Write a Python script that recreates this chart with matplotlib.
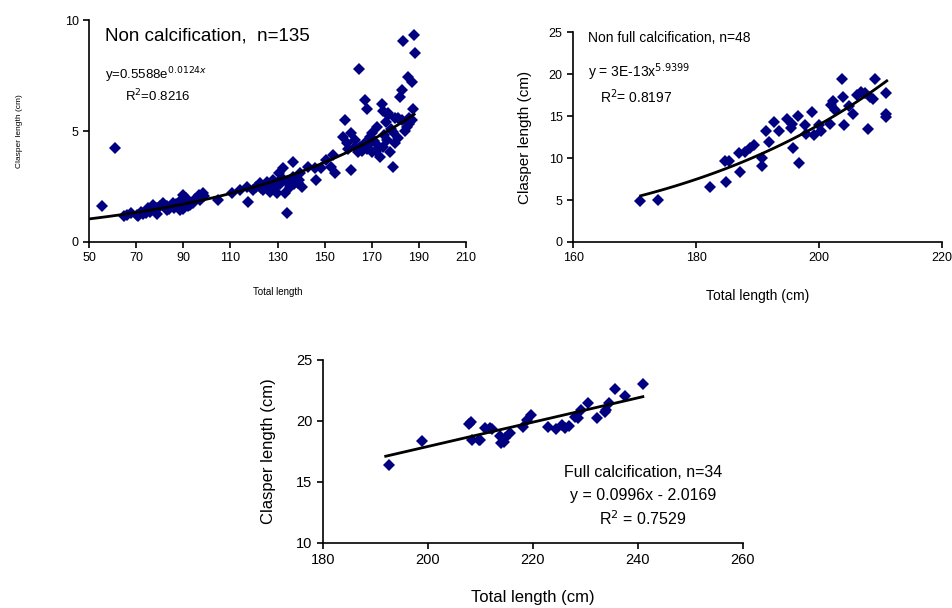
import numpy as np
import matplotlib.pyplot as plt

plt.rcParams['font.family'] = ['Liberation Sans', 'DejaVu Sans']

# Non calcification, n=135
tl_non = [55.4, 61.0, 64.9, 70.2, 73.1, 75.9, 77.3, 78.7, 81.5, 82.9, 85.8, 88.6, 90.0, 90.7,
          92.1, 94.3, 96.8, 98.5, 95.0, 104.9, 110.6, 114.1, 117.0, 117.3, 119.8, 122.6, 124.0,
          125.4, 126.8, 128.2, 129.6, 130.8, 132.5, 133.2, 133.9, 135.3, 136.7, 136.7, 138.8,
          139.5, 140.2, 142.9, 145.8, 146.5, 148.6, 150.7, 152.8, 154.2, 153.5, 158.6, 157.9,
          159.3, 161.4, 161.4, 162.8, 164.7, 164.3, 167.2, 167.9, 167.2, 169.3, 170.0, 172.1,
          173.5, 174.2, 174.7, 174.9, 177.0, 176.3, 177.7, 179.2, 179.2, 179.9, 181.3, 182.0,
          182.7, 183.4, 184.8, 185.5, 185.9, 186.9, 187.6, 188.0, 188.3,
          66, 68, 71, 72, 74, 75, 76, 79, 80, 83, 84, 86, 87, 89, 90, 91, 92, 93, 97, 99,
          121, 123, 125, 127, 128, 129, 131, 132, 134, 137, 139,
          160, 163, 165, 166, 169, 171, 173, 175, 176, 178, 180, 181, 184, 186, 187, 170, 168,
          172, 177, 183]
cl_non = [1.62, 4.25, 1.17, 1.22, 1.27, 1.44, 1.67, 1.25, 1.77, 1.44, 1.74, 1.44, 2.12, 1.82,
          1.60, 1.74, 2.12, 2.19, 1.94, 1.89, 2.22, 2.34, 2.49, 1.82, 2.34, 2.67, 2.34,
          2.72, 2.27, 2.57, 2.19, 3.09, 3.32, 2.19, 1.29, 2.49, 3.62, 2.94, 2.64,
          3.09, 2.49, 3.39, 3.32, 2.79, 3.32, 3.69, 3.39, 3.09, 3.92, 5.50, 4.74,
          4.45, 4.90, 3.24, 4.30, 7.78, 4.07, 6.39, 6.00, 4.45, 4.74, 4.07, 5.20,
          3.84, 6.24, 5.90, 4.30, 5.70, 4.60, 4.07, 3.39, 4.97, 4.45, 5.60, 6.54,
          6.84, 9.07, 5.20, 7.44, 5.30, 7.20, 6.00, 9.32, 8.53,
          1.20, 1.30, 1.15, 1.35, 1.30, 1.55, 1.35, 1.55, 1.60, 1.60, 1.50, 1.55, 1.70, 1.90,
          1.50, 2.00, 1.80, 1.65, 1.90, 2.05,
          2.50, 2.45, 2.55, 2.50, 2.80, 2.45, 2.60, 2.90, 2.70, 2.60, 2.80,
          4.20, 4.60, 4.30, 4.10, 4.40, 4.55, 4.30, 4.80, 5.40, 5.10, 5.60, 4.70, 5.00, 5.60,
          5.50, 4.90, 4.20, 4.10, 5.80, 5.50]

# Non full calcification, n=48
tl_part = [170.8, 173.8, 182.2, 184.8, 184.7, 185.4, 187.2, 186.9, 188.0, 188.8, 189.4, 190.7,
           190.7, 191.4, 191.9, 192.7, 193.5, 194.8, 195.6, 195.5, 195.8, 196.6, 196.7, 197.7,
           197.9, 198.8, 199.1, 200.0, 201.7, 202.3, 202.6, 203.7, 203.9, 204.1, 204.9, 205.5,
           206.1, 206.8, 207.5, 207.9, 208.7, 209.1, 210.9, 210.8, 210.9, 208.3, 200.3, 202.0]
cl_part = [4.88, 4.96, 6.6, 7.14, 9.64, 9.64, 8.3, 10.6, 10.75, 11.15, 11.6, 9.05,
           10.0, 13.2, 11.95, 14.25, 13.2, 14.6, 14.05, 13.6, 11.2, 15.0, 9.45, 13.9,
           12.9, 15.5, 12.7, 13.9, 14.05, 16.8, 15.7, 19.4, 17.3, 13.9, 16.2, 15.2,
           17.5, 17.9, 17.7, 13.45, 17.0, 19.4, 17.8, 15.2, 14.9, 17.3, 13.2, 16.3]

# Full calcification, n=34
tl_full = [192.6, 199.0, 207.8, 208.3, 209.7, 209.9, 210.9, 211.9, 212.2, 213.7, 214.5, 214.7,
           215.6, 218.1, 219.0, 219.7, 222.9, 224.5, 225.5, 226.1, 228.0, 228.6, 229.3, 230.5,
           232.2, 234.0, 234.5, 235.6, 237.6, 241.1, 233.8, 227.0, 214.0, 208.5]
cl_full = [16.4, 18.36, 19.75, 19.9, 18.4, 18.4, 19.45, 19.45, 19.3, 18.8, 18.3, 18.6,
           19.0, 19.5, 20.1, 20.5, 19.5, 19.3, 19.7, 19.45, 20.35, 20.2, 20.9, 21.5,
           20.27, 20.9, 21.5, 22.6, 22.05, 23.0, 20.7, 19.6, 18.2, 18.4]

navy = '#000080'
fig = plt.figure(figsize=(9.52, 6.08), dpi=100)


def style(ax):
    for s in ['top', 'right']:
        ax.spines[s].set_visible(False)
    ax.spines['left'].set_linewidth(1.2)
    ax.spines['bottom'].set_linewidth(1.2)
    ax.tick_params(direction='out', length=4, width=1.2, labelsize=9)


# panel 1
ax1 = fig.add_axes([0.0935, 0.602, 0.396, 0.365])
ax1.plot(tl_non, cl_non, 'D', color=navy, markersize=6.5, markeredgewidth=0)
xf = np.linspace(50, 188, 100)
ax1.plot(xf, 0.5588 * np.exp(0.0124 * xf), color='black', lw=2)
ax1.set_xlim(50, 210)
ax1.set_ylim(0, 10)
ax1.set_xticks(np.arange(50, 211, 20))
ax1.set_yticks([0, 5, 10])
style(ax1)
ax1.set_xlabel('Total length', fontsize=7, labelpad=16)
ax1.set_ylabel('Clasper length (cm)', fontsize=6, labelpad=30)
ax1.text(56.8, 9.3, 'Non calcification,  n=135', fontsize=13.5, va='center')
ax1.text(56.8, 7.5, 'y=0.5588e$^{0.0124x}$', fontsize=9.5, va='center')
ax1.text(65.3, 6.6, 'R$^2$=0.8216', fontsize=9.5, va='center')

# panel 2
ax2 = fig.add_axes([0.602, 0.602, 0.3876, 0.345])
ax2.plot(tl_part, cl_part, 'D', color=navy, markersize=6.5, markeredgewidth=0)
xf = np.linspace(171, 211, 100)
ax2.plot(xf, 3e-13 * xf ** 5.94, color='black', lw=2)
ax2.set_xlim(160, 220)
ax2.set_ylim(0, 25)
ax2.set_xticks([160, 180, 200, 220])
ax2.set_yticks(np.arange(0, 26, 5))
style(ax2)
ax2.set_xlabel('Total length (cm)', fontsize=10, labelpad=18)
ax2.set_ylabel('Clasper length (cm)', fontsize=11, labelpad=12)
ax2.text(162.4, 24.3, 'Non full calcification, n=48', fontsize=10, va='center')
ax2.text(162.4, 20.2, 'y = 3E-13x$^{5.9399}$', fontsize=10, va='center')
ax2.text(164.4, 17.3, 'R$^2$= 0.8197', fontsize=10, va='center')

# panel 3
ax3 = fig.add_axes([0.339, 0.107, 0.441, 0.301])
ax3.plot(tl_full, cl_full, 'D', color=navy, markersize=6.5, markeredgewidth=0)
xf = np.linspace(192, 241, 50)
ax3.plot(xf, 0.0996 * xf - 2.0169, color='black', lw=2)
ax3.set_xlim(180, 260)
ax3.set_ylim(10, 25)
ax3.set_xticks(np.arange(180, 261, 20))
ax3.set_yticks([10, 15, 20, 25])
style(ax3)
ax3.tick_params(labelsize=10.5)
ax3.set_xlabel('Total length (cm)', fontsize=12, labelpad=16)
ax3.set_ylabel('Clasper length (cm)', fontsize=12, labelpad=14)
ax3.text(241, 15.8, 'Full calcification, n=34', fontsize=11.5, ha='center', va='center')
ax3.text(241, 13.9, 'y = 0.0996x - 2.0169', fontsize=11.5, ha='center', va='center')
ax3.text(241, 12.0, 'R$^2$ = 0.7529', fontsize=11.5, ha='center', va='center')

fig.savefig('out.png', dpi=100)
